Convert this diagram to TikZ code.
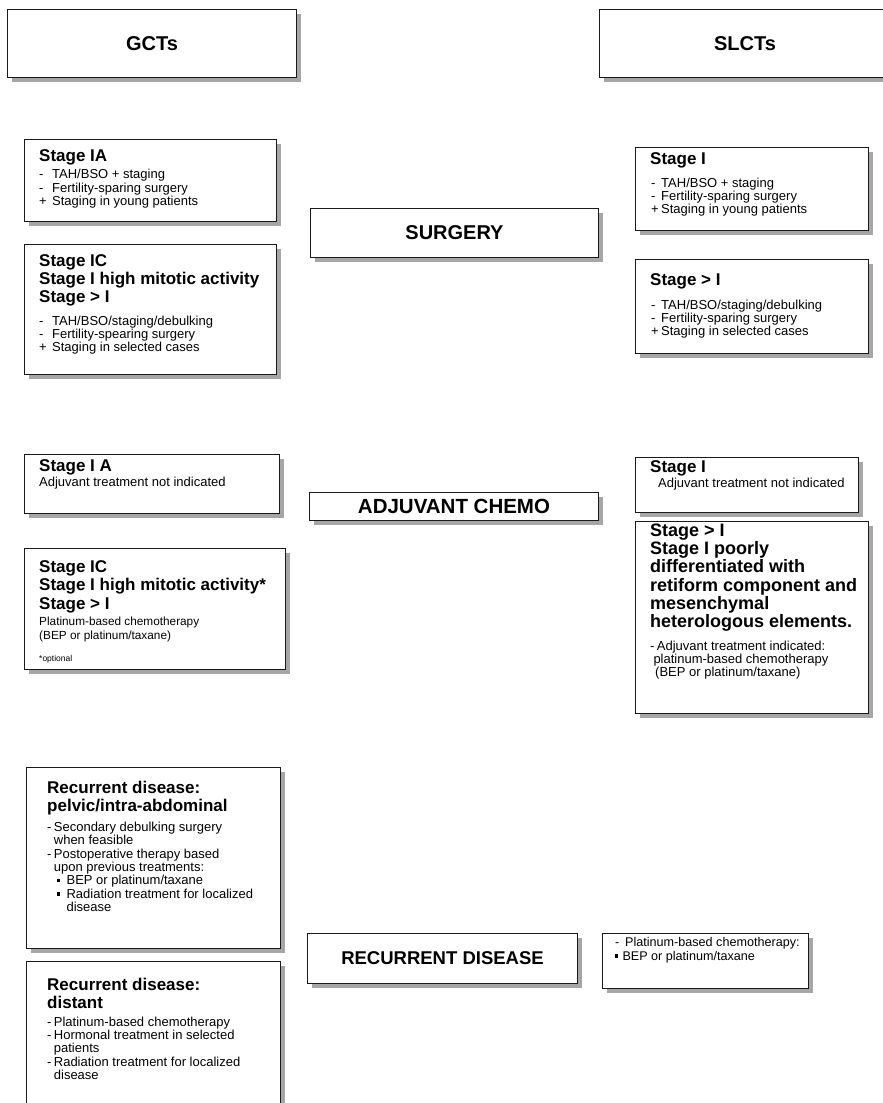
\documentclass[tikz,border=0pt]{standalone}
\usepackage{fontspec}
\setmainfont{Liberation Sans}
\usetikzlibrary{shadows}
\newcommand{\sqbul}{\raisebox{2.6pt}{\rule{3.2pt}{3.2pt}}}
\newcommand{\lmk}[2]{\makebox[#1][l]{#2}}
\begin{document}
\begin{tikzpicture}[x=1pt,y=-1pt,
  box/.style={draw=black!90, line width=1pt, fill=white, inner sep=0pt, anchor=north west,
    drop shadow={shadow xshift=4pt, shadow yshift=-4pt, fill=black!35, opacity=1}},
  title/.style={font=\bfseries\fontsize{20}{22}\selectfont},
  head/.style={anchor=north west, inner sep=0pt, align=left, font=\bfseries\fontsize{17}{18.3}\selectfont},
  bighead/.style={anchor=north west, inner sep=0pt, align=left, font=\bfseries\fontsize{18}{18.3}\selectfont},
  body/.style={anchor=north west, inner sep=0pt, align=left, font=\fontsize{13}{13.3}\selectfont},
  tiny/.style={anchor=north west, inner sep=0pt, align=left, font=\fontsize{8.5}{10}\selectfont}]
\fill[white] (0,0) rectangle (883,1103);
\useasboundingbox (0,0) rectangle (883,1103);

% column headers
\node[box, title, minimum width=289pt, minimum height=68pt] (gct) at (7,9) {GCTs};
\node[box, title, minimum width=291pt, minimum height=68pt] (slct) at (599,9) {SLCTs};

% middle labels
\node[box, title, minimum width=288pt, minimum height=49pt] (surg) at (310,208) {SURGERY};
\node[box, font=\bfseries\fontsize{20.5}{22}\selectfont, minimum width=289pt, minimum height=28pt] (adj) at (309,492) {ADJUVANT CHEMO};
\node[box, font=\bfseries\fontsize{18.5}{22}\selectfont, minimum width=270pt, minimum height=50pt] (rec) at (307,933) {RECURRENT DISEASE};

% GCT surgery
\node[box, minimum width=252pt, minimum height=82pt] (g1) at (24,139) {};
\node[head] (g1h) at (39,149.3) {Stage IA};
\node[body] (g1b) at (39,169.2) {\lmk{13pt}{-}TAH/BSO + staging\\\lmk{13pt}{-}Fertility-sparing surgery\\\lmk{13pt}{+}Staging in young patients};

\node[box, minimum width=252pt, minimum height=130pt] (g2) at (24,244) {};
\node[head] (g2h) at (39,254.3) {Stage IC\\Stage I high mitotic activity\\Stage > I};
\node[body] (g2b) at (39,315.5) {\lmk{13pt}{-}TAH/BSO/staging/debulking\\\lmk{13pt}{-}Fertility-spearing surgery\\\lmk{13pt}{+}Staging in selected cases};

% SLCT surgery
\node[box, minimum width=233pt, minimum height=83pt] (s1) at (635,147) {};
\node[head] (s1h) at (650,152.6) {Stage I};
\node[body] (s1b) at (651,177.5) {\lmk{10pt}{-}TAH/BSO + staging\\\lmk{10pt}{-}Fertility-sparing surgery\\\lmk{10pt}{+}Staging in young patients};

\node[box, minimum width=233pt, minimum height=94pt] (s2) at (635,259) {};
\node[head] (s2h) at (650,273.6) {Stage > I};
\node[body] (s2b) at (651,299.5) {\lmk{10pt}{-}TAH/BSO/staging/debulking\\\lmk{10pt}{-}Fertility-sparing surgery\\\lmk{10pt}{+}Staging in selected cases};

% GCT adjuvant
\node[box, minimum width=255pt, minimum height=59pt] (a1) at (24,454) {};
\node[head] (a1h) at (39,459.6) {Stage I A};
\node[body] (a1b) at (39,477) {Adjuvant treatment not indicated};

\node[box, minimum width=261pt, minimum height=121pt] (a2) at (24,548) {};
\node[head] (a2h) at (39,560.6) {Stage IC\\Stage I high mitotic activity*\\Stage > I};
\node[body, font=\fontsize{11.8}{13.5}\selectfont] (a2b) at (39,616.9) {Platinum-based chemotherapy\\(BEP or platinum/taxane)};
\node[tiny] (a2n) at (39,654.8) {*optional};

% SLCT adjuvant
\node[box, minimum width=223pt, minimum height=55pt] (b1) at (635,457) {};
\node[head] (b1h) at (650,460.6) {Stage I};
\node[body] (b1b) at (658,477.5) {Adjuvant treatment not indicated};

\node[box, minimum width=233pt, minimum height=192pt] (b2) at (635,521) {};
\node[bighead] (b2h) at (650,523.6) {Stage > I\\Stage I poorly\\differentiated with\\retiform component and\\mesenchymal\\heterologous elements.};
\node[body] (b2b) at (650,640.5) {\lmk{6.7pt}{-}Adjuvant treatment indicated:\\\hspace*{3.3pt}platinum-based chemotherapy\\\hspace*{5pt}(BEP or platinum/taxane)};

% GCT recurrent
\node[box, minimum width=254pt, minimum height=181pt] (r1) at (26,767) {};
\node[head] (r1h) at (47,780.6) {Recurrent disease:\\pelvic/intra-abdominal};
\node[body] (r1b) at (47,822) {\lmk{6.7pt}{-}Secondary debulking surgery\\\hspace*{6.7pt}when feasible\\\lmk{6.7pt}{-}Postoperative therapy based\\\hspace*{6.7pt}upon previous treatments:\\\hspace*{9.4pt}\lmk{10pt}{\sqbul}BEP or platinum/taxane\\\hspace*{9.4pt}\lmk{10pt}{\sqbul}Radiation treatment for localized\\\hspace*{19.4pt}disease};

\node[box, minimum width=254pt, minimum height=160pt] (r2) at (26,961) {};
\node[head] (r2h) at (47,977.6) {Recurrent disease:\\distant};
\node[body] (r2b) at (47,1016.5) {\lmk{6.7pt}{-}Platinum-based chemotherapy\\\lmk{6.7pt}{-}Hormonal treatment in selected\\\hspace*{6.7pt}patients\\\lmk{6.7pt}{-}Radiation treatment for localized\\\hspace*{6.7pt}disease};

% SLCT recurrent
\node[box, minimum width=206pt, minimum height=55pt] (s3) at (602,933) {};
\node[body, font=\fontsize{12.6}{13.3}\selectfont] (s3b) at (615,937.5) {\lmk{10pt}{-}Platinum-based chemotherapy:\\\lmk{7.3pt}{\sqbul}BEP or platinum/taxane};
\end{tikzpicture}
\end{document}
